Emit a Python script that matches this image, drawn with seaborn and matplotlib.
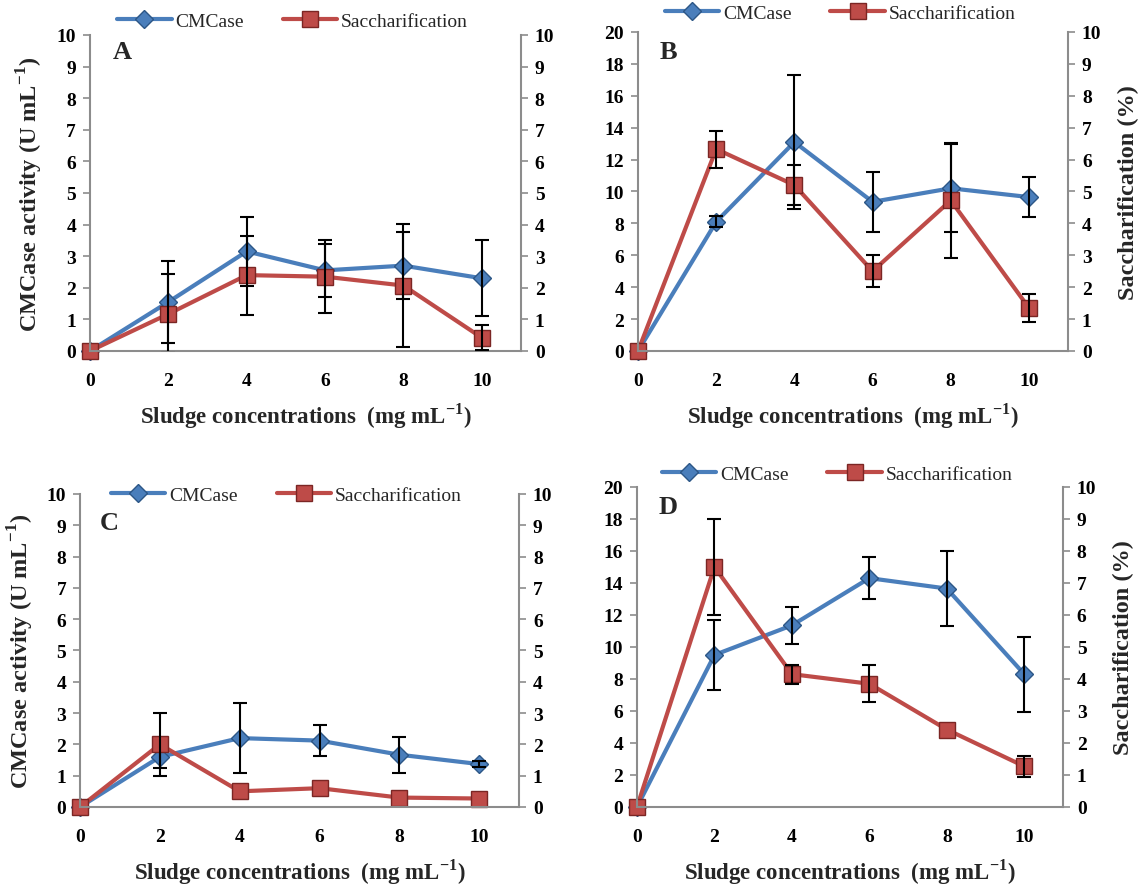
import numpy as np
import pandas as pd
import seaborn as sns
import matplotlib.pyplot as plt
from matplotlib.lines import Line2D

sns.set_style("white")
plt.rcParams['font.family'] = ['Liberation Serif', 'DejaVu Serif']
plt.rcParams['mathtext.fontset'] = 'custom'
plt.rcParams['mathtext.rm'] = 'Liberation Serif'
plt.rcParams['mathtext.bf'] = 'Liberation Serif:bold'

# sludge concentrations (mg/mL)
conc = [0, 2, 4, 6, 8, 10]

# panel A
a_cmc = [0, 1.55, 3.15, 2.55, 2.7, 2.3]
a_cmc_err = [0, 1.3, 1.1, 0.85, 1.05, 1.2]
a_sac = [0, 1.17, 2.4, 2.35, 2.07, 0.42]
a_sac_err = [0, 1.25, 1.25, 1.15, 1.95, 0.4]

# panel B
b_cmc = [0, 8.1, 13.1, 9.35, 10.2, 9.65]
b_cmc_err = [0, 0.35, 4.2, 1.9, 2.75, 1.25]
b_sac = [0, 6.33, 5.2, 2.5, 4.72, 1.35]
b_sac_err = [0, 0.58, 0.63, 0.5, 1.8, 0.45]

# panel C
c_cmc = [0, 1.6, 2.2, 2.12, 1.67, 1.37]
c_cmc_err = [0, 0.35, 1.12, 0.5, 0.58, 0.1]
c_sac = [0, 2.0, 0.5, 0.6, 0.3, 0.27]
c_sac_err = [0, 1.0, 0, 0, 0, 0]

# panel D
d_cmc = [0, 9.5, 11.35, 14.3, 13.65, 8.3]
d_cmc_err = [0, 2.2, 1.15, 1.3, 2.35, 2.35]
d_sac = [0, 7.5, 4.15, 3.85, 2.42, 1.27]
d_sac_err = [0, 1.5, 0.3, 0.58, 0, 0.33]

BLUE = '#4a7ebb'
BLUE_EDGE = '#2c5686'
RED = '#be4b48'
RED_EDGE = '#7b2624'
GRAY = '#8c8c8c'

panels = [
    dict(letter='A', pos=[0.0788, 0.6032, 0.3774, 0.3563], cmc=a_cmc, cmc_err=a_cmc_err,
         sac=a_sac, sac_err=a_sac_err, ymax=10, left_label=True, right_label=False,
         leg_y=1.045, let_xy=(0.053, 0.946)),
    dict(letter='B', pos=[0.5587, 0.6032, 0.3765, 0.3596], cmc=b_cmc, cmc_err=b_cmc_err,
         sac=b_sac, sac_err=b_sac_err, ymax=20, left_label=False, right_label=True,
         leg_y=1.058, let_xy=(0.051, 0.94)),
    dict(letter='C', pos=[0.0701, 0.0891, 0.3844, 0.3529], cmc=c_cmc, cmc_err=c_cmc_err,
         sac=c_sac, sac_err=c_sac_err, ymax=10, left_label=True, right_label=False,
         leg_y=0.997, let_xy=(0.046, 0.91)),
    dict(letter='D', pos=[0.5578, 0.0891, 0.3730, 0.3608], cmc=d_cmc, cmc_err=d_cmc_err,
         sac=d_sac, sac_err=d_sac_err, ymax=20, left_label=False, right_label=True,
         leg_y=1.04, let_xy=(0.051, 0.9375)),
]

fig = plt.figure(figsize=(11.42, 8.87), dpi=100)


def style_axis(ax):
    for side in ['left', 'right', 'bottom', 'top']:
        ax.spines[side].set_visible(False)
    ax.tick_params(axis='both', colors=GRAY, length=5, width=1.2, labelcolor='black',
                   labelsize=14)
    for lab in ax.get_xticklabels() + ax.get_yticklabels():
        lab.set_fontweight('bold')


for p in panels:
    ax = fig.add_axes(p['pos'])
    ax2 = ax.twinx()

    df = pd.DataFrame({'conc': conc, 'cmc': p['cmc'], 'sac': p['sac']})

    cmc_err = np.array(p['cmc_err'])
    sac_err = np.array(p['sac_err'])
    keep = cmc_err > 0
    sns.lineplot(data=df, x='conc', y='cmc', ax=ax, color=BLUE, lw=3, marker='D',
                 markersize=9, markerfacecolor=BLUE, markeredgecolor=BLUE_EDGE,
                 markeredgewidth=1, zorder=2, clip_on=False)
    ax.errorbar(np.array(conc)[keep], np.array(p['cmc'])[keep], yerr=cmc_err[keep],
                fmt='none', ecolor='black', elinewidth=1.5, capsize=5, capthick=1.5, zorder=3)

    sns.lineplot(data=df, x='conc', y='sac', ax=ax2, color=RED, lw=3, marker='s',
                 markersize=11, markerfacecolor=RED, markeredgecolor=RED_EDGE,
                 markeredgewidth=1, zorder=2, clip_on=False)
    keep = sac_err > 0
    ax2.errorbar(np.array(conc)[keep], np.array(p['sac'])[keep], yerr=sac_err[keep],
                 fmt='none', ecolor='black', elinewidth=1.5, capsize=5, capthick=1.5, zorder=3)

    ax.set_xlim(0, 11)
    ax.set_ylim(0, p['ymax'])
    ax2.set_ylim(0, 10)
    ax.set_xticks(conc)
    ax.set_yticks(np.arange(0, p['ymax'] + 1, p['ymax'] // 10))
    ax2.set_yticks(np.arange(0, 11, 1))

    style_axis(ax)
    style_axis(ax2)
    for side in ['left', 'right', 'bottom']:
        ax2.spines[side].set_visible(True)
        ax2.spines[side].set_color(GRAY)
        ax2.spines[side].set_linewidth(1.5)
    ax.tick_params(axis='x', pad=10)
    ax.tick_params(axis='y', pad=5)
    ax2.tick_params(axis='y', pad=5)

    ax.set_xlabel('Sludge concentrations  (mg mL$^{\\mathbf{-1}}$)', fontsize=16.5,
                  fontweight='bold', labelpad=8)
    if p['left_label']:
        ax.set_ylabel('CMCase activity (U mL$^{\\mathbf{-1}}$)', fontsize=17.5,
                      fontweight='bold', labelpad=8)
    else:
        ax.set_ylabel('')
    if p['right_label']:
        ax2.set_ylabel('Saccharification (%)', fontsize=17.5, fontweight='bold', labelpad=12)
    else:
        ax2.set_ylabel('')

    ax.text(p['let_xy'][0], p['let_xy'][1], p['letter'], transform=ax.transAxes,
            fontsize=19, fontweight='bold', va='center', ha='left')

    handles = [
        Line2D([], [], color=BLUE, lw=3, marker='D', markersize=9,
               markerfacecolor=BLUE, markeredgecolor=BLUE_EDGE),
        Line2D([], [], color=RED, lw=3, marker='s', markersize=11,
               markerfacecolor=RED, markeredgecolor=RED_EDGE),
    ]
    ax2.legend(handles, ['CMCase', 'Saccharification'], loc='center', ncol=2,
               bbox_to_anchor=(0.47, p['leg_y']), frameon=False, fontsize=14,
               handlelength=2.8, columnspacing=2.0, handletextpad=0.2)

fig.savefig('out.png', dpi=100)
